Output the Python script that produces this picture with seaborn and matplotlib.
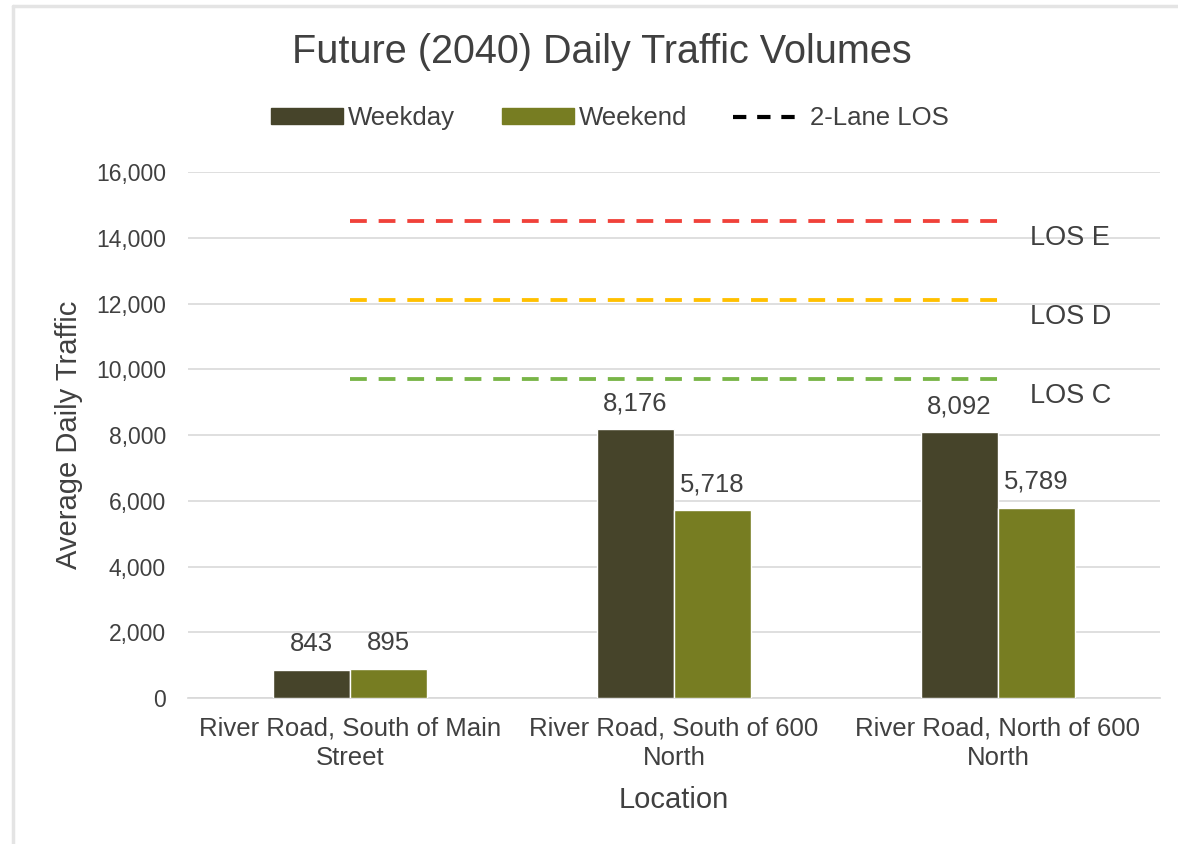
import matplotlib
matplotlib.use("Agg")
import pandas as pd
import matplotlib.pyplot as plt
import seaborn as sns
from matplotlib.patches import Patch
from matplotlib.lines import Line2D

# Data
locations = ["River Road, South of Main\nStreet",
             "River Road, South of 600\nNorth",
             "River Road, North of 600\nNorth"]
weekday = [843, 8176, 8092]
weekend = [895, 5718, 5789]
los_names = ["LOS E", "LOS D", "LOS C"]
los_values = [14500, 12100, 9700]
los_colors = ["#f0413a", "#ffc000", "#78b547"]

df = pd.DataFrame({
    "Location": locations * 2,
    "Traffic": weekday + weekend,
    "Series": ["Weekday"] * 3 + ["Weekend"] * 3,
})

sns.set_theme(style="white")
plt.rcParams["font.family"] = ["Liberation Sans", "DejaVu Sans"]
txt = "#404040"
dash = (0, (4.4, 3.1))

fig = plt.figure(figsize=(11.78, 8.44), dpi=100)
ax = fig.add_axes([0.1596, 0.173, 0.8251, 0.623])

bar_colors = {"Weekday": "#46442a", "Weekend": "#777d22"}
sns.barplot(data=df, x="Location", y="Traffic", hue="Series", palette=bar_colors,
            width=0.475, saturation=1, ax=ax, legend=False, zorder=3)

for cont in ax.containers:
    ax.bar_label(cont, labels=[f"{v:,.0f}" for v in cont.datavalues],
                 padding=10, fontsize=18.5, color=txt)

# LOS threshold lines, drawn across the category centres
xs = list(range(len(locations)))
for name, val, col in zip(los_names, los_values, los_colors):
    sns.lineplot(x=xs, y=[val] * len(xs), color=col, lw=2.75, ax=ax, zorder=4,
                 linestyle=dash)
    ax.text(xs[-1] + 0.1, val - 500, name, fontsize=19.5, color=txt, va="center", ha="left")

ax.set_ylim(0, 16000)
ax.set_xlim(-0.5, 2.5)
ax.set_yticks(range(0, 16001, 2000))
ax.set_yticklabels([f"{v:,}" for v in range(0, 16001, 2000)])
ax.yaxis.grid(True, color="#d9d9d9", lw=1.2, zorder=0)
ax.set_axisbelow(True)
for s in ["top", "right", "left"]:
    ax.spines[s].set_visible(False)
ax.spines["bottom"].set_color("#d9d9d9")
ax.tick_params(axis="y", labelsize=16.5, colors=txt, length=0, pad=16)
ax.tick_params(axis="x", labelsize=18.5, colors=txt, length=0, pad=13)
for lab in ax.get_xticklabels():
    lab.set_linespacing(1.3)
ax.set_xlabel("Location", fontsize=21, color=txt, labelpad=12)
ax.set_ylabel("Average Daily Traffic", fontsize=21, color=txt, labelpad=9)

fig.text(0.511, 0.938, "Future (2040) Daily Traffic Volumes", fontsize=28.5,
         color=txt, ha="center", va="center")

handles = [Patch(color=bar_colors["Weekday"], label="Weekday"),
           Patch(color=bar_colors["Weekend"], label="Weekend"),
           Line2D([0], [0], color="black", ls=(0, (3.2, 2.6)), lw=3, label="2-Lane LOS")]
fig.legend(handles=handles, loc="center", bbox_to_anchor=(0.518, 0.86), ncol=3,
           frameon=False, fontsize=18.5, handlelength=2.8, handleheight=0.55,
           columnspacing=1.8, handletextpad=0.2, labelcolor=txt)

# thin frame on the top and left edges
fig.add_artist(Line2D([0.011, 1.0], [0.993, 0.993], transform=fig.transFigure,
                      color="#e4e4e4", lw=2.5))
fig.add_artist(Line2D([0.011, 0.011], [0.0, 0.993], transform=fig.transFigure,
                      color="#e4e4e4", lw=2.5))

fig.savefig("out.png", dpi=100)
